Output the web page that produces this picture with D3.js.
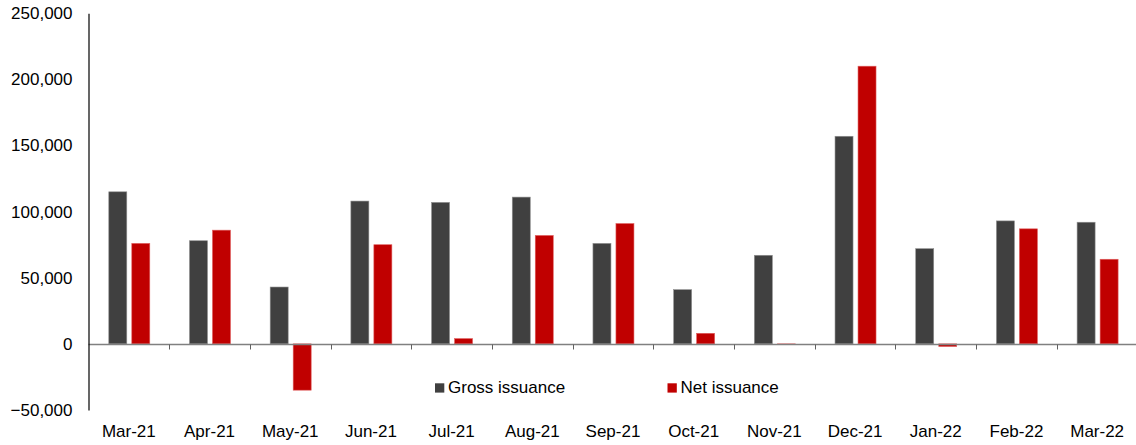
<!DOCTYPE html>
<html>
<head>
<meta charset="utf-8">
<script src="https://cdn.jsdelivr.net/npm/d3@7"></script>
<style>
  html, body { margin: 0; padding: 0; background: #fff; }
  svg { display: block; font-family: "Liberation Sans", Arial, sans-serif; }
</style>
</head>
<body>
<svg id="chart" width="1136" height="445"></svg>
<script>
const categories = ["Mar-21","Apr-21","May-21","Jun-21","Jul-21","Aug-21","Sep-21","Oct-21","Nov-21","Dec-21","Jan-22","Feb-22","Mar-22"];
const grossIssuance = [115000, 78000, 43000, 108000, 107000, 111000, 76000, 41000, 67000, 157000, 72000, 93000, 92000];
const netIssuance = [76000, 86000, -35000, 75000, 4000, 82000, 91000, 8000, -500, 210000, -2000, 87000, 64000];
const seriesNames = ["Gross issuance", "Net issuance"];
const yTicks = [-50000, 0, 50000, 100000, 150000, 200000, 250000];

const colors = { "Gross issuance": "#404040", "Net issuance": "#c00000" };
const strokes = { "Gross issuance": "#8f8f8f", "Net issuance": "#e06060" };

const svg = d3.select("#chart");
const plotLeft = 88.5, plotRight = 1137.5, plotTop = 13.3, plotBottom = 410;

const x = d3.scaleBand().domain(categories).range([plotLeft, plotRight]).padding(0);
const step = x.step();
const x1 = d3.scaleBand().domain(seriesNames)
  .range([step * 20.3 / 80.7, step * 61.3 / 80.7])
  .paddingInner(5 / 23).paddingOuter(0);
const y = d3.scaleLinear().domain([-50000, 250000]).range([plotBottom, plotTop]);

const data = categories.map((c, i) => ({ cat: c, values: [
  { name: seriesNames[0], v: grossIssuance[i] },
  { name: seriesNames[1], v: netIssuance[i] }
]}));

// bars
const g = svg.append("g");
g.selectAll("g.cat").data(data).join("g")
  .attr("class", "cat")
  .attr("transform", d => `translate(${x(d.cat)},0)`)
  .selectAll("rect").data(d => d.values).join("rect")
  .attr("x", d => x1(d.name))
  .attr("width", x1.bandwidth())
  .attr("y", d => Math.min(y(d.v), y(0)))
  .attr("height", d => Math.max(Math.abs(y(d.v) - y(0)), 0.8))
  .attr("fill", d => colors[d.name])
  .attr("stroke", d => strokes[d.name])
  .attr("stroke-width", 0.6);

// zero line with category ticks
const zeroY = Math.round(y(0)) + 0.5;
svg.append("line")
  .attr("x1", plotLeft).attr("x2", 1136)
  .attr("y1", zeroY).attr("y2", zeroY)
  .attr("stroke", "#808080").attr("stroke-width", 1.5);
svg.append("g").selectAll("line").data(categories.slice(1))
  .join("line")
  .attr("x1", d => Math.round(x(d)) + 0.5).attr("x2", d => Math.round(x(d)) + 0.5)
  .attr("y1", zeroY).attr("y2", zeroY + 5)
  .attr("stroke", "#606060").attr("stroke-width", 1);

// y axis
const yAxis = d3.axisLeft(y).tickValues(yTicks).tickSize(0).tickPadding(16)
  .tickFormat(d3.format(","));
const ya = svg.append("g").attr("transform", `translate(${plotLeft},0)`).call(yAxis);
ya.select(".domain").attr("stroke", "#000").attr("stroke-width", 1.2);
ya.selectAll("text").attr("font-size", 17).attr("fill", "#000")
  .attr("font-family", "Liberation Sans, Arial, sans-serif");

// x labels
svg.append("g").selectAll("text").data(categories).join("text")
  .attr("x", d => x(d) + x.bandwidth() / 2)
  .attr("y", 437)
  .attr("text-anchor", "middle")
  .attr("font-size", 17)
  .attr("fill", "#000")
  .text(d => d);

// legend
const legendPos = [{ sx: 435, tx: 448 }, { sx: 667.5, tx: 680.5 }];
const lg = svg.append("g").selectAll("g").data(seriesNames).join("g");
lg.append("rect")
  .attr("x", (d, i) => legendPos[i].sx).attr("y", 383.3)
  .attr("width", 9.3).attr("height", 9.3)
  .attr("fill", d => colors[d]);
lg.append("text")
  .attr("x", (d, i) => legendPos[i].tx).attr("y", 393)
  .attr("font-size", 17).attr("fill", "#000")
  .text(d => d);
</script>
</body>
</html>
